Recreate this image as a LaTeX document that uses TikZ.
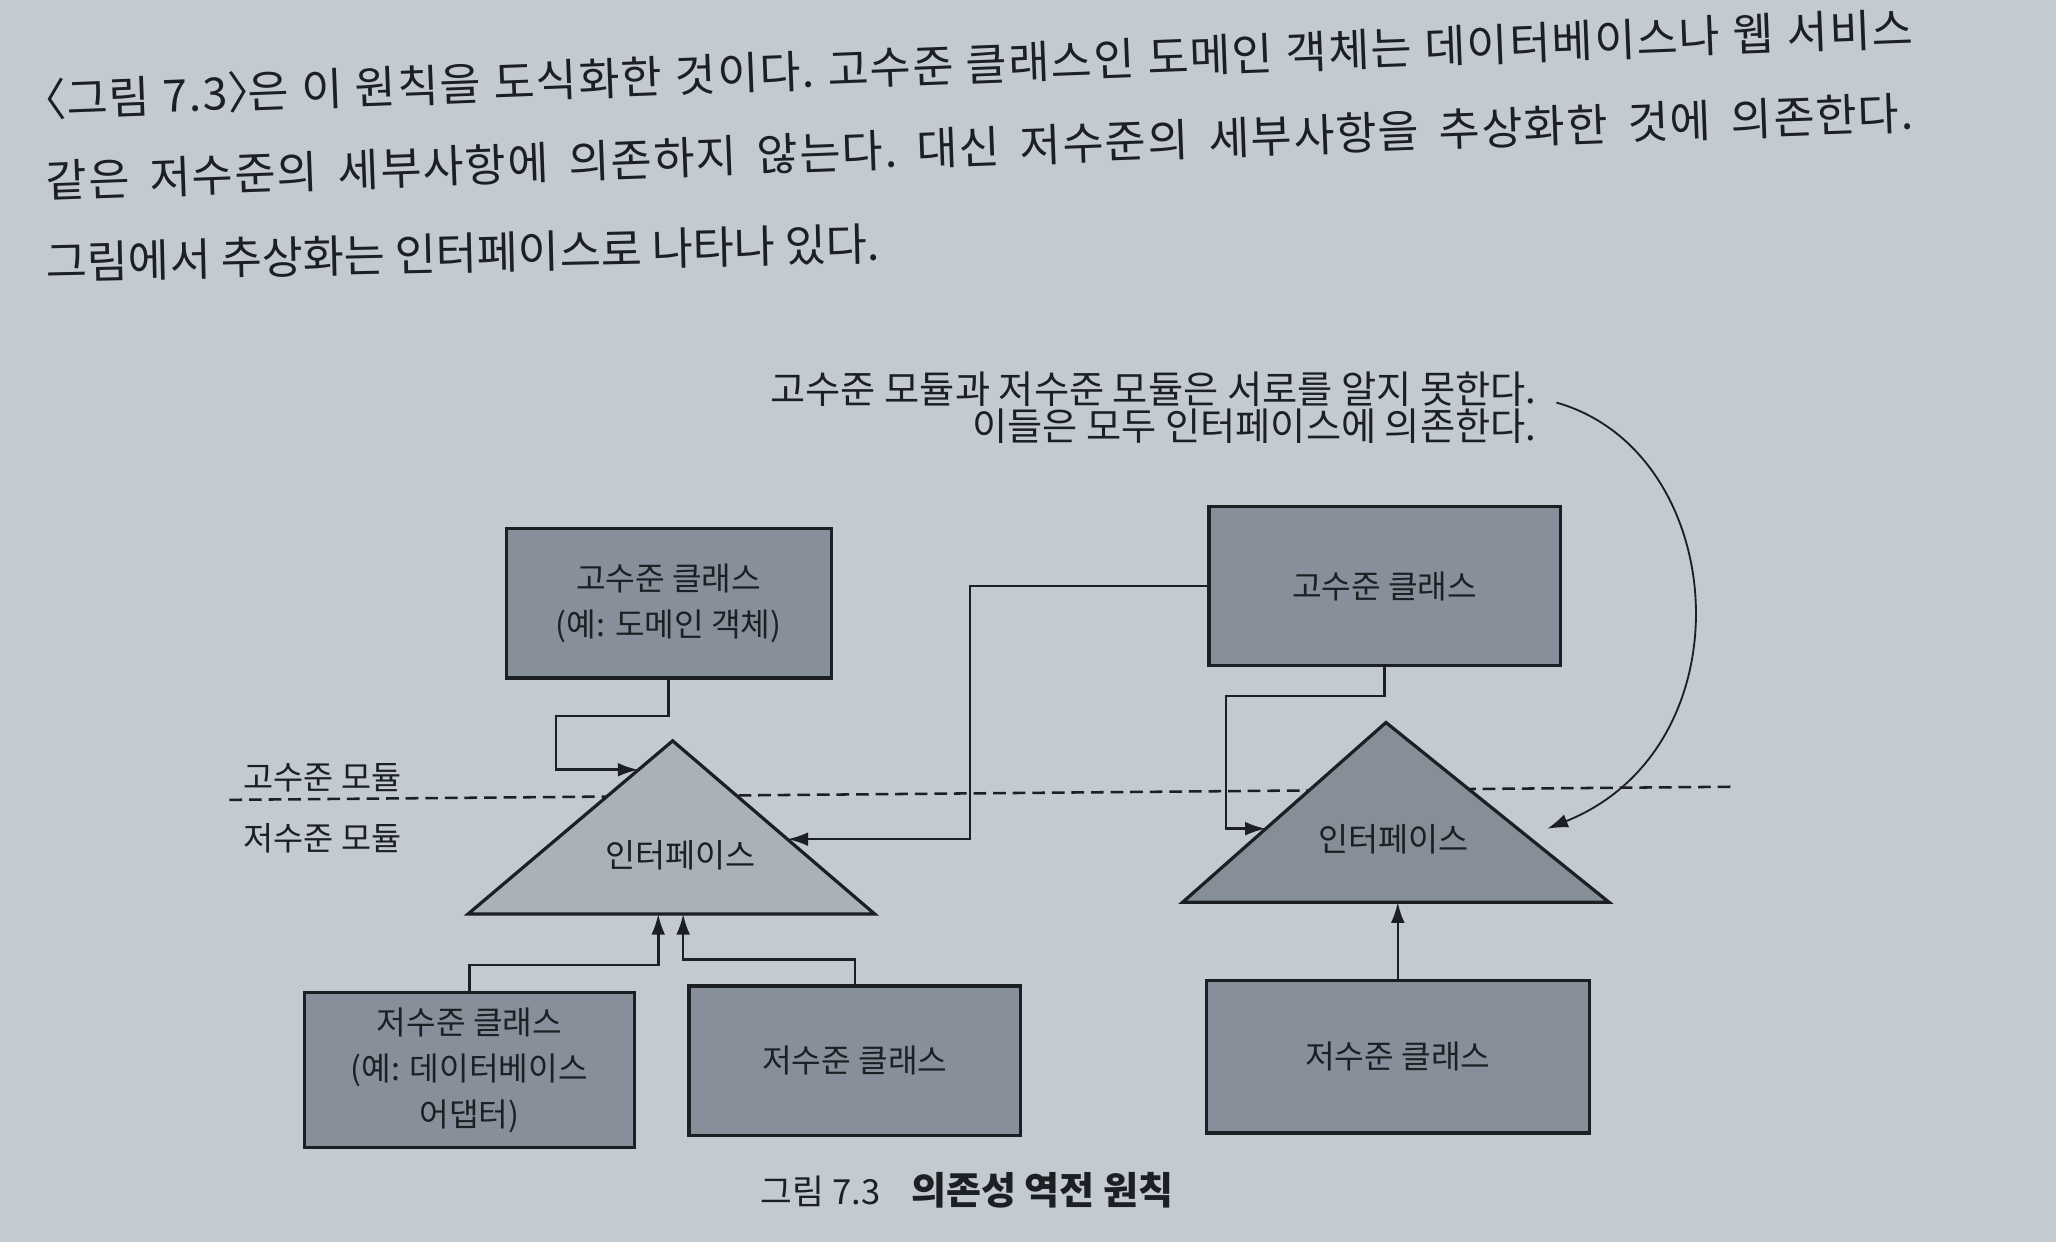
\documentclass[tikz,border=0pt]{standalone}
\usepackage{fontspec}
\setmainfont{Noto Sans CJK KR}
\newfontfamily\spreadfont[LetterSpace=3]{Noto Sans CJK KR}
\usetikzlibrary{arrows.meta,calc,positioning}
\definecolor{paper}{HTML}{C3CAD0}
\definecolor{boxgray}{HTML}{87909A}
\definecolor{trilight}{HTML}{A9B2B9}
\definecolor{tridark}{HTML}{868F98}
\definecolor{ink}{HTML}{1C1F23}

\tikzset{
  cls/.style={draw=ink, line width=1.4pt, fill=boxgray, text=ink, align=center,
    font=\fontsize{14}{20}\selectfont, inner sep=0pt},
  iface/.style={draw=ink, line width=1.4pt, line join=miter},
  conn/.style={draw=ink, line width=1.1pt, -{Latex[length=9pt,width=6pt]}},
  curv/.style={draw=ink, line width=0.8pt, -{Latex[length=9pt,width=6pt]}},
  body/.style={text=ink, anchor=west, inner sep=0pt, font=\fontsize{19.4}{23}\selectfont},
  lbl/.style={text=ink, inner sep=0pt, font=\fontsize{14.2}{16}\selectfont},
  note/.style={text=ink, inner sep=0pt, align=right, font=\fontsize{16.6}{16}\selectfont},
}
% justified line of the body text
\newcommand{\fullline}[1]{{\spreadfont\frenchspacing\makebox[28.5cm][s]{#1}}}

\begin{document}
\begin{tikzpicture}[x=0.02cm,y=-0.02cm]
  % Page
  \fill[paper] (0,0) rectangle (1568,947);
  \useasboundingbox (0,0) rectangle (1568,947);
  % Body text
  \node[body, rotate=2.2] (line1) at (35,76) {\fullline{\makebox[0.45em][r]{〈}그림 7.3\makebox[0.45em][l]{〉}은 이 원칙을 도식화한 것이다. 고수준 클래스인 도메인 객체는 데이터베이스나 웹 서비스}};
  \node[body, rotate=2.1] (line2) at (35,138) {\fullline{같은 저수준의 세부사항에 의존하지 않는다. 대신 저수준의 세부사항을 추상화한 것에 의존한다.}};
  \node[body, rotate=1.3] (line3) at (35,200) {그림에서 추상화는 인터페이스로 나타나 있다.};
  % Note
  \node[note, anchor=east] (note) at (1172,311) {고수준 모듈과 저수준 모듈은 서로를 알지 못한다.\\이들은 모두 인터페이스에 의존한다.};
  % Module border
  \draw[ink, line width=1.1pt, dash pattern=on 5.5pt off 3pt] (175,610) -- (1320,600);
  \node[lbl] (himod) at (246,593) {고수준 모듈};
  \node[lbl] (lomod) at (246,639) {저수준 모듈};
  % Interfaces
  \coordinate (ifL-top) at (513,565);
  \coordinate (ifL-bl) at (357,697);
  \coordinate (ifL-br) at (667,697);
  \draw[iface, fill=trilight] (ifL-top) -- (ifL-bl) -- (ifL-br) -- cycle;
  \node[lbl] (ifL) at (519,652) {인터페이스};
  \coordinate (ifR-top) at (1057,551);
  \coordinate (ifR-bl) at (902,688);
  \coordinate (ifR-br) at (1227,688);
  \draw[iface, fill=tridark] (ifR-top) -- (ifR-bl) -- (ifR-br) -- cycle;
  \node[lbl] (ifR) at (1063,640) {인터페이스};
  \coordinate (ifL-w) at ($(ifL-top)!0.167!(ifL-bl)$);
  \coordinate (ifL-e) at ($(ifL-top)!0.568!(ifL-br)$);
  \coordinate (ifL-b1) at (502,697);
  \coordinate (ifL-b2) at (521,697);
  \coordinate (ifR-w) at ($(ifR-top)!0.591!(ifR-bl)$);
  \coordinate (ifR-e) at (1180,632);
  % Classes
  \node[cls, minimum width=4.96cm, minimum height=2.28cm] (hiA) at (510,460) {고수준 클래스\\(예: 도메인 객체)};
  \node[cls, minimum width=5.36cm, minimum height=2.42cm] (hiB) at (1056,447) {고수준 클래스};
  \node[cls, minimum width=5.04cm, minimum height=2.36cm] (loC) at (358,816) {저수준 클래스\\(예: 데이터베이스\\어댑터)};
  \node[cls, minimum width=5.06cm, minimum height=2.28cm] (loD) at (652,809) {저수준 클래스};
  \node[cls, minimum width=5.84cm, minimum height=2.32cm] (loE) at (1066,806) {저수준 클래스};
  % Dependencies
  \draw[conn] (hiA.south) |- ++(-86,28) |- (ifL-w);
  \draw[conn] (hiB.west) -- ++(-181,0) |- (ifL-e);
  \draw[conn] (hiB.south) |- ++(-121,22) |- (ifR-w);
  \draw[conn] (loC.north) -- ++(0,-20) -| (ifL-b1);
  \draw[conn] (loD.north) -- ++(0,-19) -| (ifL-b2);
  \draw[conn] (loE.north) -- (loE.north |- ifR-bl);
  \draw[curv] ([shift={(15,-4)}]note.east) .. controls (1320,345) and (1335,570) .. (ifR-e);
  % Caption
  \node[text=ink, anchor=west, inner sep=0pt, font=\fontsize{15}{18}\selectfont] (cap) at (580,908) {그림 7.3\hspace{0.9em}{\fontsize{16.5}{18}\selectfont\bfseries 의존성 역전 원칙}};
\end{tikzpicture}
\end{document}
